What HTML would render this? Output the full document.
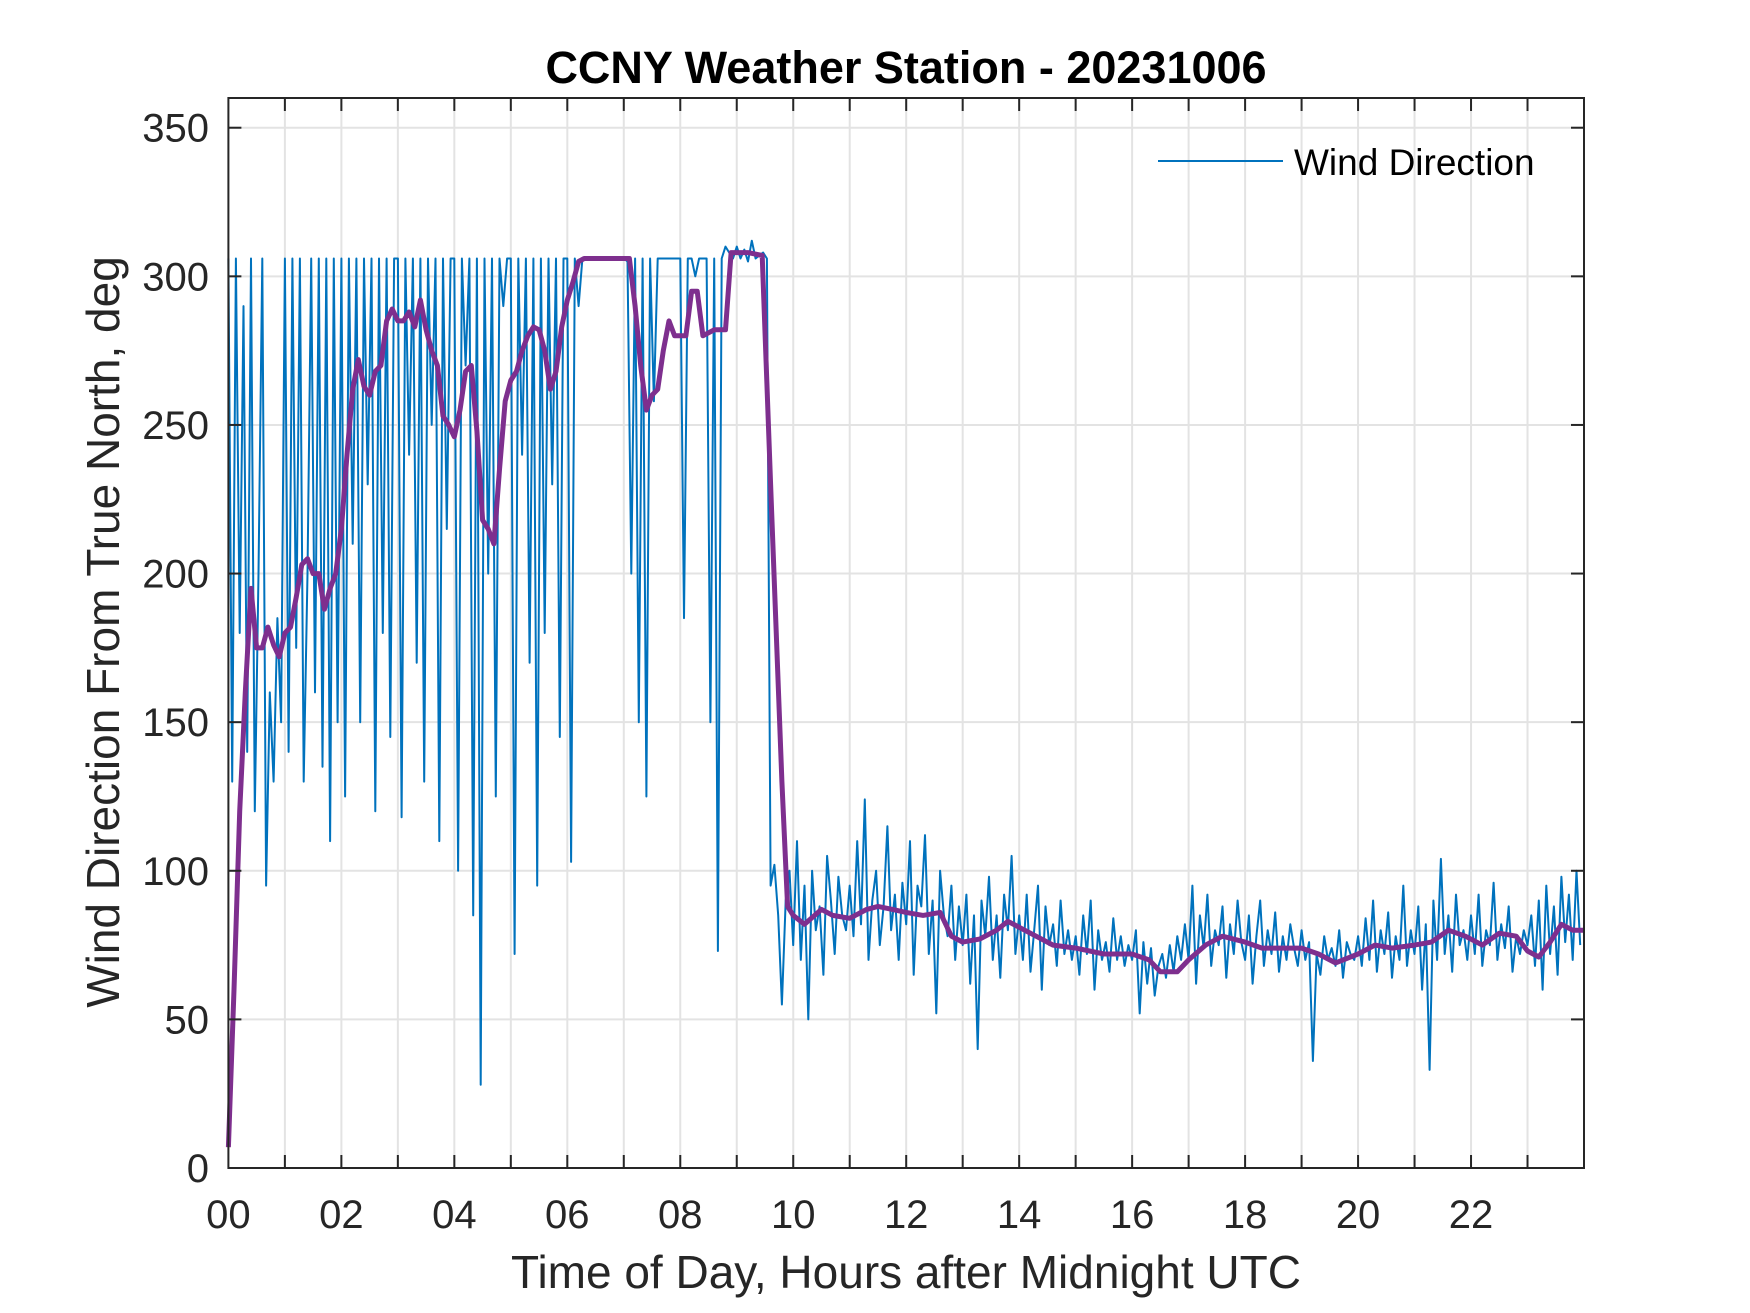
<!DOCTYPE html>
<html><head><meta charset="utf-8">
<style>
html,body{margin:0;padding:0;background:#fff;}
svg{display:block;font-family:"Liberation Sans",Arial,sans-serif;}
</style></head>
<body>
<svg id="chart" width="1750" height="1313" viewBox="0 0 1750 1313" xmlns="http://www.w3.org/2000/svg">
<rect width="1750" height="1313" fill="#fff"/>
<g id="grid"></g>
<g id="series"></g>
<g id="axes"></g>
<text x="906" y="83" text-anchor="middle" font-size="45" font-weight="bold" fill="#000">CCNY Weather Station - 20231006</text>
<text x="906" y="1288" text-anchor="middle" font-size="46" fill="#262626">Time of Day, Hours after Midnight UTC</text>
<text transform="translate(119,632) rotate(-90)" text-anchor="middle" font-size="46" fill="#262626">Wind Direction From True North, deg</text>
<g>
<line x1="1158" y1="161" x2="1283" y2="161" stroke="#0072BD" stroke-width="2"/>
<text x="1294" y="175" font-size="37" fill="#000">Wind Direction</text>
</g>
</svg>
<script>
const xTickLabels = ["00","02","04","06","08","10","12","14","16","18","20","22"];
const yTickValues = [0,50,100,150,200,250,300,350];
const blueStepHours = 1/15;
const blueValues = [
306,130,306,180,290,140,306,120,200,306,95,160,130,185,150,
306,140,306,175,306,130,200,306,160,306,135,306,110,306,150,
306,125,306,210,306,150,306,230,306,120,306,180,306,145,306,
306,118,306,240,306,170,306,130,306,250,306,110,306,215,306,
306,100,306,270,306,85,306,28,306,200,306,125,306,290,306,
306,72,306,240,306,170,306,95,306,180,306,230,306,145,306,
306,103,306,290,306,306,306,306,306,306,306,306,306,306,306,
306,305,200,306,150,306,125,306,258,306,306,306,306,306,306,
306,185,306,306,300,306,306,306,150,306,73,306,310,308,306,
310,306,309,305,312,306,307,308,306,95,102,85,55,90,100,
75,110,70,95,50,100,80,88,65,105,90,72,98,85,80,
95,78,110,82,124,70,90,100,75,88,115,80,92,70,96,
82,110,65,95,88,112,72,90,52,100,85,78,95,70,88,
75,92,62,85,40,90,78,98,70,85,64,92,80,105,72,
85,70,92,66,80,95,60,88,75,82,68,90,72,80,70,
78,65,85,72,90,60,80,70,76,66,84,70,78,68,75,
70,80,52,76,62,74,58,68,72,64,75,66,78,70,82,
70,95,62,85,74,92,68,80,75,88,64,82,72,90,76,
70,85,62,78,90,68,80,72,86,66,78,70,82,74,68,
80,70,76,36,72,65,78,70,74,68,80,64,76,72,70,
78,68,84,70,90,66,80,72,86,64,78,70,95,68,80,
72,88,60,82,33,90,70,104,72,85,66,92,75,80,70,
85,72,92,68,80,75,96,70,82,74,88,66,78,72,80,
75,85,68,90,60,95,72,88,65,98,76,92,70,100,75
];
const avgHours = [0,0.1,0.2,0.3,0.4,0.5,0.6,0.7,0.8,0.9,1.0,1.1,1.2,1.3,1.4,1.5,1.6,1.7,1.8,1.9,2.0,2.1,2.2,2.3,2.4,2.5,2.6,2.7,2.8,2.9,3.0,3.1,3.2,3.3,3.4,3.5,3.6,3.7,3.8,3.9,4.0,4.1,4.2,4.3,4.4,4.5,4.6,4.7,4.8,4.9,5.0,5.1,5.2,5.3,5.4,5.5,5.6,5.7,5.8,5.9,6.0,6.1,6.2,6.3,7.0,7.1,7.2,7.3,7.4,7.5,7.6,7.7,7.8,7.9,8.0,8.1,8.2,8.3,8.4,8.5,8.6,8.7,8.8,8.9,9.0,9.2,9.45,9.6,9.8,9.9,10.0,10.2,10.5,10.7,11.0,11.3,11.5,12.0,12.3,12.6,12.8,13.0,13.3,13.6,13.8,14.0,14.3,14.6,15.0,15.5,16.0,16.3,16.5,16.8,17.0,17.3,17.6,18.0,18.3,18.6,19.0,19.3,19.6,20.0,20.3,20.6,21.0,21.3,21.6,21.9,22.2,22.5,22.8,23.0,23.2,23.4,23.6,23.8,24.0];
const avgValues = [7,60,120,160,195,175,175,182,176,172,180,182,192,203,205,200,200,188,195,200,215,240,262,272,263,260,268,270,285,289,285,285,288,283,292,282,275,270,253,250,246,255,268,270,248,218,215,210,235,258,265,268,275,280,283,282,275,262,268,283,292,298,305,306,306,306,290,270,255,260,262,275,285,280,280,280,295,295,280,281,282,282,282,308,308,308,307,230,130,88,85,82,87,85,84,87,88,86,85,86,78,76,77,80,83,81,78,75,74,72,72,70,66,66,70,75,78,76,74,74,74,72,69,72,75,74,75,76,80,78,75,79,78,73,71,76,82,80,80];

const X0=228.4, X1=1584, Y0=1168, Y1=98, XMAX=24, YMAX=360;
const xs = h => X0 + (h/XMAX)*(X1-X0);
const ys = v => Y0 - (v/YMAX)*(Y0-Y1);
const NS="http://www.w3.org/2000/svg";
function mk(tag, attrs, parent){const e=document.createElementNS(NS,tag);for(const k in attrs)e.setAttribute(k,attrs[k]);parent.appendChild(e);return e;}
const grid=document.getElementById('grid'), series=document.getElementById('series'), axes=document.getElementById('axes');

for(let h=1;h<24;h++){
  const g=mk('line',{x1:xs(h),x2:xs(h),y1:Y1,y2:Y0,stroke:'#e3e3e3','stroke-width':2},grid);
  
  
}
yTickValues.forEach(v=>{
  if(v===0) return;
  const g=mk('line',{x1:X0,x2:X1,y1:ys(v),y2:ys(v),stroke:'#e3e3e3','stroke-width':2},grid);
  
  
});

let d='';
blueValues.forEach((v,i)=>{d+=(i?'L':'M')+xs(i*blueStepHours).toFixed(1)+' '+ys(v).toFixed(1);});
const blue=mk('path',{d:d,fill:'none',stroke:'#0072BD','stroke-width':2,'stroke-linejoin':'round'},series);



let d2='';
avgValues.forEach((v,i)=>{d2+=(i?'L':'M')+xs(avgHours[i]).toFixed(1)+' '+ys(v).toFixed(1);});
const pur=mk('path',{d:d2,fill:'none',stroke:'#7E2F8E','stroke-width':5,'stroke-linejoin':'round'},series);



const frame=mk('rect',{x:X0,y:Y1,width:X1-X0,height:Y0-Y1,fill:'none',stroke:'#262626','stroke-width':2},axes);


for(let h=1;h<24;h++){
  const t1=mk('line',{x1:xs(h),x2:xs(h),y1:Y0,y2:Y0-13,stroke:'#262626','stroke-width':2},axes);
  
  
  const t2=mk('line',{x1:xs(h),x2:xs(h),y1:Y1,y2:Y1+13,stroke:'#262626','stroke-width':2},axes);
  
  
}
xTickLabels.forEach((lab,i)=>{
  const t=mk('text',{x:xs(i*2),y:1228,'text-anchor':'middle','font-size':40,fill:'#262626'},axes);
  t.textContent=lab;
  
  
});
yTickValues.forEach(v=>{
  const t1=mk('line',{x1:X0,x2:X0+13,y1:ys(v),y2:ys(v),stroke:'#262626','stroke-width':2},axes);
  
  
  const t2=mk('line',{x1:X1,x2:X1-13,y1:ys(v),y2:ys(v),stroke:'#262626','stroke-width':2},axes);
  
  
  const t=mk('text',{x:209,y:ys(v)+14,'text-anchor':'end','font-size':40,fill:'#262626'},axes);
  t.textContent=String(v);
  
  
});
</script>
</body></html>
